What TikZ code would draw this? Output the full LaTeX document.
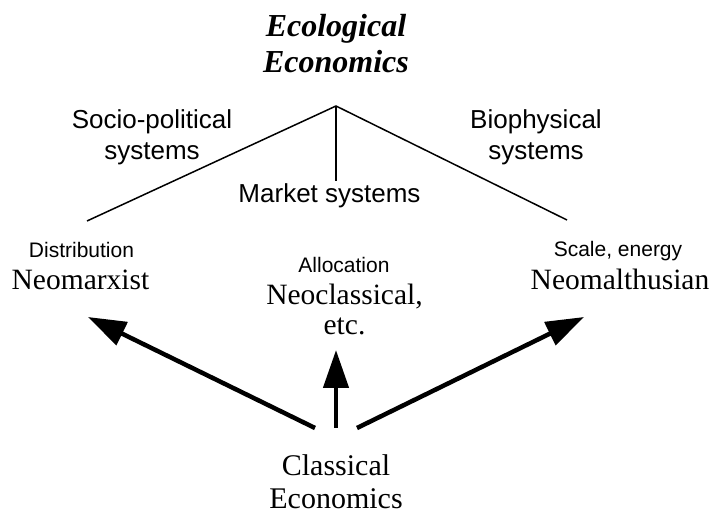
\documentclass[tikz,border=0pt]{standalone}
\usepackage{fontspec}
\setmainfont{Liberation Serif}
\setsansfont{Liberation Sans}
\usetikzlibrary{arrows.meta}

\begin{document}
\begin{tikzpicture}[x=1pt,y=-1pt,
  title/.style={anchor=base,align=center,inner sep=0pt,
    font=\fontsize{32}{36}\selectfont\bfseries\itshape},
  syslabel/.style={anchor=base,align=center,inner sep=0pt,
    font=\sffamily\fontsize{26}{31.5}\selectfont},
  focus/.style={anchor=base,align=center,inner sep=0pt,
    font=\sffamily\fontsize{21}{25}\selectfont},
  school/.style={anchor=base,align=center,inner sep=0pt,
    font=\fontsize{29.5}{30.5}\selectfont},
  branch/.style={line width=1.5pt},
  lineage/.style={line width=4.5pt,-{Triangle[length=38pt,width=25pt]}}
]
\useasboundingbox (0,0) rectangle (710,518);

% heading and the three system labels (base = baseline of the last line)
\node[title] (eco) at (336,73) {Ecological\\Economics};
\node[syslabel] (socio) at (152,160) {Socio-political\\systems};
\node[syslabel] (bio) at (536,160) {Biophysical\\systems};
\node[syslabel] (market) at (329.5,203) {Market systems};

% the three schools
\node[focus] (distr) at (81.5,258) {Distribution};
\node[school] (neomarx) at (80.5,290) {Neomarxist};
\node[focus] (alloc) at (344,273) {Allocation};
\node[school] (neoclass) at (344.5,335) {Neoclassical,\\etc.};
\node[focus] (scale) at (618,257) {Scale, energy};
\node[school] (neomalth) at (620,290) {Neomalthusian};

% common root
\node[school,font=\fontsize{30}{33}\selectfont] (classical) at (336,509) {Classical\\Economics};

% branching tree under the heading
\coordinate (apex) at (336,106);
\coordinate (leftend) at (87,221);
\coordinate (rightend) at (567,220);
\coordinate (midend) at (336,181);
\draw[branch] (leftend) -- (apex) -- (rightend);
\draw[branch] (apex) -- (midend);

% arrows from classical economics to each school
\coordinate (tailL) at (315,428);
\coordinate (tailM) at (336,428);
\coordinate (tailR) at (357,428);
\coordinate (tipL) at (88,317);
\coordinate (tipM) at (336,350);
\coordinate (tipR) at (584,317);
\draw[lineage] (tailL) -- (tipL);
\draw[lineage] (tailM) -- (tipM);
\draw[lineage] (tailR) -- (tipR);
\end{tikzpicture}
\end{document}
